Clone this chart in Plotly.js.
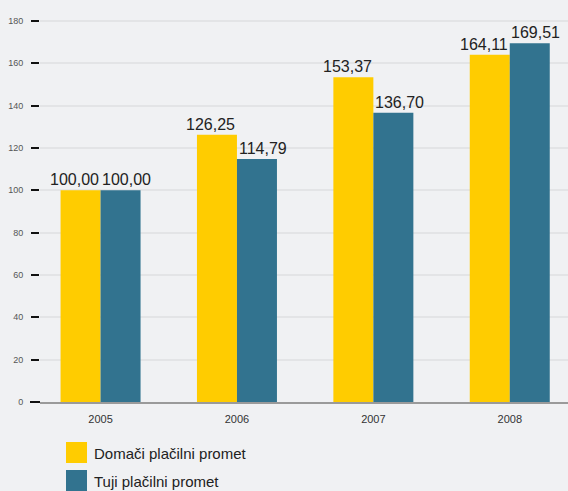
<!DOCTYPE html>
<html>
<head>
<meta charset="utf-8">
<script src="https://cdn.plot.ly/plotly-3.0.1.min.js"></script>
<style>html,body{margin:0;padding:0;background:#f0f1f3;}#chart{width:568px;height:491px;}</style>
</head>
<body>
<div id="chart"></div>
<script>
var years = ['2005', '2006', '2007', '2008'];
var domaci = [100.00, 126.25, 153.37, 164.11];
var tuji = [100.00, 114.79, 136.70, 169.51];
var seriesNames = ['Domači plačilni promet', 'Tuji plačilni promet'];
var yTicks = [0, 20, 40, 60, 80, 100, 120, 140, 160, 180];

var FONT = '"Liberation Sans", Arial, sans-serif';
var YELLOW = '#ffcc00';
var TEAL = '#32738f';

function fmt(v) { return v.toFixed(2).replace('.', ','); }

var W = 568, H = 491;
var mL = 40, mR = 0, mT = 0, mB = 89;
var plotW = W - mL - mR, plotH = H - mT - mB;

function px(x) { return (x - mL) / plotW; }
function py(y) { return (H - mB - y) / plotH; }

var traces = [
  {type: 'bar', x: years, y: domaci, name: seriesNames[0], marker: {color: YELLOW},
   showlegend: false, hoverinfo: 'none'},
  {type: 'bar', x: years, y: tuji, name: seriesNames[1], marker: {color: TEAL},
   showlegend: false, hoverinfo: 'none'}
];

var shapes = [];
var annotations = [];

// value labels above bars, positioned from the data through the axes
var series = [domaci, tuji];
var xshifts = [-26, 26];
series.forEach(function (vals, s) {
  vals.forEach(function (v, i) {
    annotations.push({xref: 'x', yref: 'y', x: i, y: v,
      xanchor: 'center', yanchor: 'bottom', xshift: xshifts[s], yshift: 0,
      showarrow: false, text: fmt(v),
      font: {family: FONT, size: 16, color: '#222'}});
  });
});

// black stub at the zero line, left of the axis
shapes.push({type: 'line', xref: 'paper', yref: 'paper',
  x0: px(30), x1: px(40), y0: 0, y1: 0, line: {color: '#111', width: 2}});

// legend
var legendY = [452.5, 480.5];
var colors = [YELLOW, TEAL];
seriesNames.forEach(function (n, i) {
  shapes.push({type: 'rect', xref: 'paper', yref: 'paper',
    x0: px(66), x1: px(87), y0: py(legendY[i] - 10.5), y1: py(legendY[i] + 10.5),
    fillcolor: colors[i], line: {width: 0}});
  annotations.push({xref: 'paper', yref: 'paper', x: px(92), y: py(legendY[i] + 1),
    xanchor: 'left', yanchor: 'middle', showarrow: false, text: n,
    font: {family: FONT, size: 15, color: '#222'}});
});

var layout = {
  width: W, height: H,
  margin: {l: mL, r: mR, t: mT, b: mB, pad: 0},
  paper_bgcolor: '#f0f1f3', plot_bgcolor: '#f0f1f3',
  barmode: 'group', bargap: 0.4135, bargroupgap: 0,
  font: {family: FONT},
  xaxis: {
    type: 'category', range: [-0.444, 3.427],
    showgrid: false, zeroline: false,
    showline: true, linecolor: '#9a9a9a', linewidth: 2,
    ticks: '', tickfont: {family: FONT, size: 11, color: '#333'},
    ticklabelstandoff: 6
  },
  yaxis: {
    range: [0, 402 / (381 / 180)],
    tickvals: yTicks, ticktext: yTicks.map(String),
    showgrid: true, gridcolor: '#e3e4e6', gridwidth: 2,
    zeroline: false, showline: false,
    ticks: 'outside', ticklen: 8, tickwidth: 2, tickcolor: '#111',
    tickfont: {family: FONT, size: 9, color: '#555'},
    ticklabelstandoff: 6
  },
  shapes: shapes,
  annotations: annotations
};

Plotly.newPlot('chart', traces, layout, {displayModeBar: false, staticPlot: true});
</script>
</body>
</html>
